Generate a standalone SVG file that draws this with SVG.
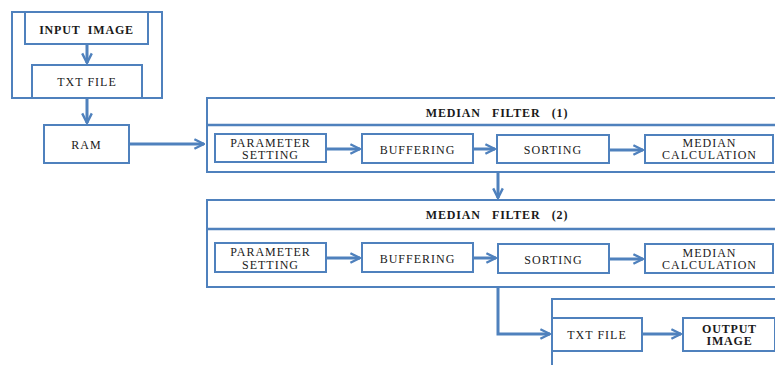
<svg xmlns="http://www.w3.org/2000/svg" width="775" height="365" viewBox="0 0 775 365" font-family="'Liberation Serif', 'Times New Roman', serif">
<defs>
<marker id="ah" viewBox="0 0 10 10" refX="9" refY="5" markerWidth="4" markerHeight="4" orient="auto" markerUnits="strokeWidth">
<polyline points="1,1 9,5 1,9" fill="none" stroke="#4f81bd" stroke-width="2" stroke-linejoin="miter"/>
</marker>
<style>
.box{fill:#fff;stroke:#4f81bd;stroke-width:2}
.t{font-family:'Liberation Serif','Times New Roman',serif;font-size:12px;letter-spacing:1px;fill:#1a1a1a;text-anchor:middle}
.b{font-weight:bold;letter-spacing:0.8px}
.c{fill:none;stroke:#4f81bd;stroke-width:3;marker-end:url(#ah)}
</style>
</defs>
<rect width="775" height="365" fill="#fff"/>
<g id="input-group">
<rect class="box" x="12" y="12" width="150" height="86"/>
</g>
<g id="input-image">
<rect class="box" x="25" y="12" width="123" height="32"/>
<text class="t b" x="86.5" y="34" xml:space="preserve">INPUT  IMAGE</text>
</g>
<g id="txt-file-1">
<rect class="box" x="32" y="65" width="110" height="33"/>
<text class="t" x="87" y="86">TXT FILE</text>
</g>
<g id="ram">
<rect class="box" x="44" y="125" width="85" height="38"/>
<text class="t" x="86.5" y="148.5">RAM</text>
</g>
<g id="median-filter-1">
<rect class="box" x="207" y="98" width="575" height="74"/>
<line x1="207" y1="125" x2="782" y2="125" stroke="#4f81bd" stroke-width="2.5"/>
<text class="t b" x="497" y="117" xml:space="preserve">MEDIAN   FILTER   (1)</text>
</g>
<g id="param-1">
<rect class="box" x="215" y="134" width="111" height="28"/>
<text class="t" x="270.5" y="146.5">PARAMETER</text>
<text class="t" x="270.5" y="159">SETTING</text>
</g>
<g id="buffering-1">
<rect class="box" x="362" y="134" width="111" height="29"/>
<text class="t" x="417.5" y="154">BUFFERING</text>
</g>
<g id="sorting-1">
<rect class="box" x="497" y="135" width="112" height="28"/>
<text class="t" x="553" y="154">SORTING</text>
</g>
<g id="median-calc-1">
<rect class="box" x="645" y="135" width="128" height="28"/>
<text class="t" x="709.5" y="146.5">MEDIAN</text>
<text class="t" x="709.5" y="159">CALCULATION</text>
</g>
<g id="median-filter-2">
<rect class="box" x="207" y="200" width="575" height="87"/>
<line x1="207" y1="229" x2="782" y2="229" stroke="#4f81bd" stroke-width="2.5"/>
<text class="t b" x="497" y="219" xml:space="preserve">MEDIAN   FILTER   (2)</text>
</g>
<g id="param-2">
<rect class="box" x="215" y="243" width="111" height="29"/>
<text class="t" x="270.5" y="256">PARAMETER</text>
<text class="t" x="270.5" y="268.5">SETTING</text>
</g>
<g id="buffering-2">
<rect class="box" x="362" y="243" width="111" height="29"/>
<text class="t" x="417.5" y="263">BUFFERING</text>
</g>
<g id="sorting-2">
<rect class="box" x="498" y="244" width="111" height="29"/>
<text class="t" x="553.5" y="264">SORTING</text>
</g>
<g id="median-calc-2">
<rect class="box" x="645" y="244" width="128" height="29"/>
<text class="t" x="709.5" y="256.5">MEDIAN</text>
<text class="t" x="709.5" y="269">CALCULATION</text>
</g>
<g id="output-group">
<rect class="box" x="552" y="299" width="230" height="80"/>
</g>
<g id="txt-file-2">
<rect class="box" x="552" y="318" width="90" height="33"/>
<text class="t" x="597" y="339">TXT FILE</text>
</g>
<g id="output-image">
<rect class="box" x="683" y="318" width="92" height="33"/>
<text class="t b" x="729.5" y="332.5">OUTPUT</text>
<text class="t b" x="729.5" y="345">IMAGE</text>
</g>
<g id="connectors">
<path class="c" d="M87,44 V63"/>
<path class="c" d="M87,98 V123"/>
<path class="c" d="M129,144 H204"/>
<path class="c" d="M326,149 H360"/>
<path class="c" d="M473,149 H495"/>
<path class="c" d="M609,150 H643"/>
<path class="c" d="M498,172 V198"/>
<path class="c" d="M326,258 H360"/>
<path class="c" d="M473,258 H496"/>
<path class="c" d="M609,259 H643"/>
<path class="c" d="M498,287 V334 H550"/>
<path class="c" d="M642,334 H681"/>
</g>
</svg>
